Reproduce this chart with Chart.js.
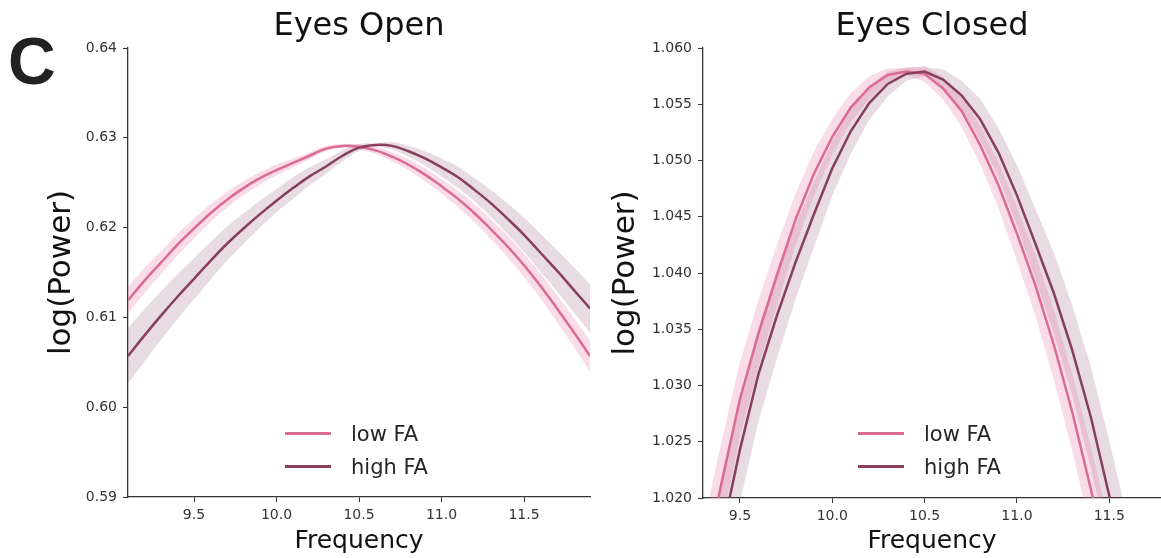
<!DOCTYPE html>
<html>
<head>
<meta charset="utf-8">
<script src="https://cdn.jsdelivr.net/npm/chart.js@4.4.0/dist/chart.umd.min.js"></script>
<style>
  body { margin: 0; background: #fff; width: 1161px; height: 558px; overflow: hidden; position: relative; font-family: 'DejaVu Sans', sans-serif; }
  canvas { position: absolute; top: 0; }
  #panelLabel { position: absolute; left: 8px; top: 23px; line-height: 1; font: bold 66px 'Liberation Sans', Arial, sans-serif; color: #222; }
  .legend { position: absolute; font-size: 21px; color: #262626; }
  .legend .row { height: 33px; display: flex; align-items: center; white-space: nowrap; }
  .legend .sw { display: inline-block; width: 46px; height: 3px; margin-right: 20px; }
</style>
</head>
<body>
<div id="panelLabel">C</div>
<canvas id="chartOpen" width="600" height="558" style="left:0"></canvas>
<canvas id="chartClosed" width="581" height="558" style="left:580px"></canvas>
<div class="legend" id="legendOpen" style="left:285px;top:417px"></div>
<div class="legend" id="legendClosed" style="left:858px;top:417px"></div>

<script>
const FONT = "'DejaVu Sans', sans-serif";
const SERIES = ['low FA', 'high FA'];
const LOW_COLOR  = '#db6a94';
const HIGH_COLOR = '#86405d';
const LOW_FILL   = 'rgba(232, 120, 162, 0.26)';
const HIGH_FILL  = 'rgba(134, 64, 93, 0.19)';

// Eyes Open — frequency grid, means and ci half-widths
const freqOpen   = [9.1, 9.2, 9.3, 9.4, 9.5, 9.6, 9.7, 9.8, 9.9, 10.0, 10.1, 10.2, 10.3, 10.4, 10.5,
                    10.6, 10.7, 10.8, 10.9, 11.0, 11.1, 11.2, 11.3, 11.4, 11.5, 11.6, 11.7, 11.8, 11.9];
const lowOpen    = [0.6119, 0.6141, 0.6161, 0.6181, 0.6199, 0.6216, 0.6231, 0.6244, 0.6255, 0.6264,
                    0.6272, 0.6280, 0.6288, 0.6291, 0.6290, 0.6286, 0.6279, 0.6270, 0.6259, 0.6246,
                    0.6232, 0.6216, 0.6198, 0.6179, 0.6158, 0.6135, 0.6110, 0.6084, 0.6057];
const lowOpenCI  = [0.0015, 0.0014, 0.0013, 0.0012, 0.0011, 0.0010, 0.0009, 0.0008, 0.0007, 0.0006,
                    0.0005, 0.0004, 0.0003, 0.0002, 0.0003, 0.0004, 0.0005, 0.0006, 0.0007, 0.0008,
                    0.0009, 0.0010, 0.0011, 0.0012, 0.0013, 0.0014, 0.0015, 0.0016, 0.0017];
const highOpen   = [0.6057, 0.6080, 0.6102, 0.6123, 0.6143, 0.6163, 0.6182, 0.6199, 0.6215, 0.6230,
                    0.6244, 0.6257, 0.6268, 0.6280, 0.6289, 0.6292, 0.6291, 0.6285, 0.6277, 0.6267,
                    0.6256, 0.6242, 0.6227, 0.6210, 0.6192, 0.6172, 0.6152, 0.6131, 0.6110];
const highOpenCI = [0.0031, 0.0029, 0.0027, 0.0025, 0.0023, 0.0021, 0.0019, 0.0017, 0.0015, 0.0013,
                    0.0012, 0.0010, 0.0008, 0.0006, 0.0004, 0.0002, 0.0004, 0.0006, 0.0008, 0.0010,
                    0.0012, 0.0013, 0.0015, 0.0017, 0.0019, 0.0021, 0.0023, 0.0025, 0.0027];

// Eyes Closed
const freqClosed   = [9.3, 9.4, 9.5, 9.6, 9.7, 9.8, 9.9, 10.0, 10.1, 10.2, 10.3, 10.4, 10.5,
                      10.6, 10.7, 10.8, 10.9, 11.0, 11.1, 11.2, 11.3, 11.4, 11.5, 11.6, 11.7, 11.8];
const lowClosed    = [1.0135, 1.0213, 1.0288, 1.0346, 1.0398, 1.0447, 1.0488, 1.0521, 1.0547, 1.0565,
                      1.0576, 1.0579, 1.0577, 1.0564, 1.0544, 1.0514, 1.0478, 1.0435, 1.0389, 1.0336,
                      1.0276, 1.0208, 1.0135, 1.0055, 0.9970, 0.9880];
const lowClosedCI  = [0.0040, 0.0037, 0.0033, 0.0030, 0.0027, 0.0023, 0.0020, 0.0016, 0.0013, 0.0010,
                      0.0006, 0.0003, 0.0007, 0.0010, 0.0014, 0.0017, 0.0020, 0.0024, 0.0027, 0.0031,
                      0.0034, 0.0038, 0.0041, 0.0044, 0.0048, 0.0051];
const highClosed   = [1.0085, 1.0166, 1.0243, 1.0310, 1.0362, 1.0409, 1.0452, 1.0493, 1.0526, 1.0551,
                      1.0568, 1.0577, 1.0579, 1.0572, 1.0558, 1.0537, 1.0507, 1.0469, 1.0426, 1.0382,
                      1.0331, 1.0272, 1.0202, 1.0126, 1.0042, 0.9951];
const highClosedCI = [0.0056, 0.0051, 0.0047, 0.0042, 0.0038, 0.0033, 0.0029, 0.0024, 0.0020, 0.0015,
                      0.0011, 0.0006, 0.0004, 0.0009, 0.0013, 0.0018, 0.0022, 0.0027, 0.0031, 0.0036,
                      0.0040, 0.0045, 0.0049, 0.0054, 0.0058, 0.0063];

function pts(freq, vals, ci, sign) {
  return freq.map((f, i) => ({ x: f, y: vals[i] + sign * (ci ? ci[i] : 0) }));
}

// band = upper edge filled down to the next dataset (lower edge)
function bandSets(freq, vals, ci, fillColor, tension) {
  return [
    { data: pts(freq, vals, ci, 1),  fill: '+1', backgroundColor: fillColor, borderWidth: 0, pointRadius: 0, tension, order: 3 },
    { data: pts(freq, vals, ci, -1), fill: false, borderWidth: 0, pointRadius: 0, tension, order: 3 },
  ];
}

function lineSet(freq, vals, color, tension, order) {
  return { data: pts(freq, vals, null, 0), borderColor: color, borderWidth: 2.5, pointRadius: 0, fill: false, tension, order };
}

function panelOptions(p) {
  const axisFont = { family: FONT, size: 14 };
  return {
    responsive: false,
    animation: false,
    events: [],
    layout: { padding: { left: p.padLeft, right: p.padRight, top: 0, bottom: 2 } },
    plugins: {
      legend: { display: false },
      tooltip: { enabled: false },
      title: {
        display: true, text: p.title, fullSize: false, color: '#111',
        font: { family: FONT, size: 32, weight: 'normal' },
        padding: { top: 7, bottom: 2.6 },
      },
    },
    scales: {
      x: {
        type: 'linear', min: p.xMin, max: p.xMax,
        border: { display: true, color: '#333', width: 1.3 },
        grid: { drawOnChartArea: false, drawTicks: true, tickLength: 5, color: '#333' },
        ticks: { stepSize: 0.5, includeBounds: false, color: '#333', padding: 5, maxRotation: 0,
                 font: axisFont, callback: v => v.toFixed(1) },
        title: { display: true, text: 'Frequency', color: '#111', font: { family: FONT, size: 25 }, padding: 0 },
        afterFit: s => { s.height = p.xHeight; },
      },
      y: {
        min: p.yMin, max: p.yMax,
        border: { display: true, color: '#333', width: 1.3 },
        grid: { drawOnChartArea: false, drawTicks: true, tickLength: 5, color: '#333' },
        ticks: { stepSize: p.yStep, color: '#333', padding: 6, font: axisFont,
                 callback: v => v.toFixed(p.yDigits) },
        title: { display: true, text: 'log(Power)', color: '#111', font: { family: FONT, size: 31 }, padding: 0 },
        afterFit: s => { s.width = p.yWidth; },
      },
    },
  };
}

new Chart(document.getElementById('chartOpen'), {
  type: 'line',
  data: {
    datasets: [
      ...bandSets(freqOpen, lowOpen, lowOpenCI, LOW_FILL, 0.4),
      ...bandSets(freqOpen, highOpen, highOpenCI, HIGH_FILL, 0.4),
      lineSet(freqOpen, lowOpen, LOW_COLOR, 0.4, 1),
      lineSet(freqOpen, highOpen, HIGH_COLOR, 0.4, 0),
    ],
  },
  options: panelOptions({
    title: 'Eyes Open', padLeft: 43, padRight: 10, yWidth: 85, xHeight: 59,
    xMin: 9.1, xMax: 11.9, yMin: 0.59, yMax: 0.64, yStep: 0.01, yDigits: 2,
  }),
});

new Chart(document.getElementById('chartClosed'), {
  type: 'line',
  data: {
    datasets: [
      ...bandSets(freqClosed, lowClosed, lowClosedCI, LOW_FILL, 0),
      ...bandSets(freqClosed, highClosed, highClosedCI, HIGH_FILL, 0),
      lineSet(freqClosed, lowClosed, LOW_COLOR, 0, 1),
      lineSet(freqClosed, highClosed, HIGH_COLOR, 0, 0),
    ],
  },
  options: panelOptions({
    title: 'Eyes Closed', padLeft: 27, padRight: 0, yWidth: 96, xHeight: 58,
    xMin: 9.3, xMax: 11.78, yMin: 1.02, yMax: 1.06, yStep: 0.005, yDigits: 3,
  }),
});

// legends (inside the plot, lower centre)
['legendOpen', 'legendClosed'].forEach(id => {
  const el = document.getElementById(id);
  el.innerHTML = SERIES.map((name, i) =>
    `<div class="row"><span class="sw" style="background:${i === 0 ? LOW_COLOR : HIGH_COLOR}"></span>${name}</div>`
  ).join('');
});
</script>
</body>
</html>
